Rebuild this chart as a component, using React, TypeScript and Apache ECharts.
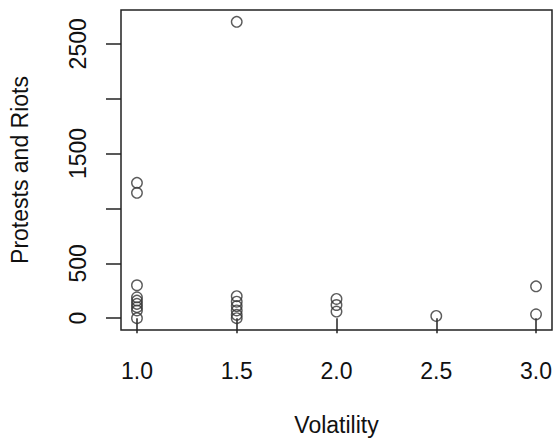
import React, { useEffect, useRef } from 'react';
import * as echarts from 'echarts';

// volatility score of each case and its count of protests and riots
const volatility = [
  1.0, 1.0, 1.0, 1.0, 1.0, 1.0, 1.0, 1.0, 1.0,
  1.5, 1.5, 1.5, 1.5, 1.5, 1.5, 1.5,
  2.0, 2.0, 2.0,
  2.5,
  3.0, 3.0,
];
const protests = [
  1233, 1142, 300, 190, 160, 130, 100, 70, 0,
  2700, 200, 150, 110, 70, 30, 0,
  175, 120, 60,
  20,
  290, 35,
];

const xTicks = [1.0, 1.5, 2.0, 2.5, 3.0];
const yTicks = [0, 500, 1000, 1500, 2000, 2500];
const yTickLabels = [0, 500, 1500, 2500];

const FONT = '"Liberation Sans", Arial, sans-serif';
const INK = '#111111';
const SIZE = 23;

const App: React.FC = () => {
  const chartRef = useRef<HTMLDivElement>(null);

  useEffect(() => {
    if (!chartRef.current) return;
    const chart = echarts.init(chartRef.current, undefined, { renderer: 'svg' });

    const option = {
      animation: false,
      backgroundColor: '#ffffff',
      grid: {
        left: 120,
        right: 6,
        top: 10,
        bottom: 112,
        show: true,
        borderColor: '#222222',
        borderWidth: 1.5,
        backgroundColor: 'transparent',
      },
      xAxis: {
        type: 'value',
        min: 0.92,
        max: 3.08,
        name: 'Volatility',
        nameLocation: 'middle',
        nameGap: 83,
        nameTextStyle: { fontFamily: FONT, fontSize: SIZE, color: INK },
        axisLine: { show: false },
        splitLine: { show: false },
        axisTick: {
          show: true,
          customValues: xTicks,
          length: 15,
          lineStyle: { color: '#222222', width: 1.5 },
        },
        axisLabel: {
          customValues: xTicks,
          formatter: (v: number) => v.toFixed(1),
          margin: 29,
          fontFamily: FONT,
          fontSize: SIZE,
          color: INK,
        },
      },
      yAxis: {
        type: 'value',
        min: -108,
        max: 2808,
        name: 'Protests and Riots',
        nameLocation: 'middle',
        nameGap: 90,
        nameTextStyle: { fontFamily: FONT, fontSize: SIZE, color: INK },
        axisLine: { show: false },
        splitLine: { show: false },
        axisTick: {
          show: true,
          customValues: yTicks,
          length: 15,
          lineStyle: { color: '#222222', width: 1.5 },
        },
        axisLabel: {
          customValues: yTickLabels,
          formatter: (v: number) => String(v),
          rotate: 90,
          margin: 32,
          fontFamily: FONT,
          fontSize: SIZE,
          color: INK,
        },
      },
      series: [
        {
          type: 'scatter',
          data: volatility.map((v, i) => [v, protests[i]]),
          symbol: 'circle',
          symbolSize: 10.5,
          itemStyle: {
            color: 'transparent',
            borderColor: '#333333',
            borderWidth: 1.4,
          },
        },
      ],
    };

    chart.setOption(option);

    return () => {
      chart.dispose();
    };
  }, []);

  return (
    <div
      ref={chartRef}
      style={{ position: 'fixed', left: 0, top: 0, width: 558, height: 442 }}
    />
  );
};

export default App;
